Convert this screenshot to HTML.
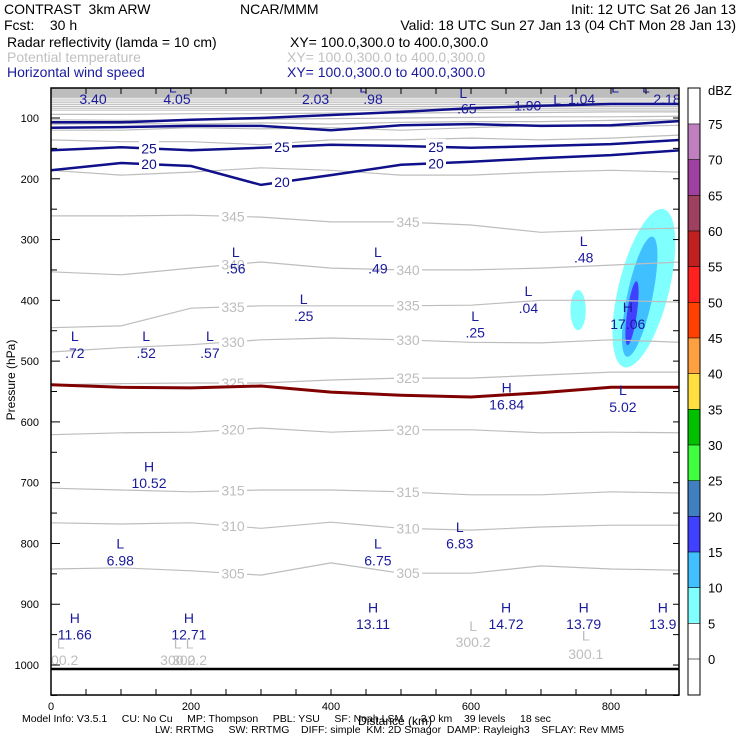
<!DOCTYPE html>
<html><head><meta charset="utf-8">
<style>
html,body{margin:0;padding:0;background:#fff;width:740px;height:740px;overflow:hidden}
svg{display:block;font-family:"Liberation Sans",sans-serif}
text{white-space:pre}
</style></head><body>
<svg id="chart" width="740" height="740" viewBox="0 0 740 740" xml:space="preserve">
<g font-size="14">
<text x="4" y="14" fill="#000">CONTRAST  3km ARW</text>
<text x="240" y="14" fill="#000">NCAR/MMM</text>
<text x="736" y="14" fill="#000" text-anchor="end">Init: 12 UTC Sat 26 Jan 13</text>
<text x="4" y="30" fill="#000">Fcst:    30 h</text>
<text x="736" y="30" fill="#000" text-anchor="end">Valid: 18 UTC Sun 27 Jan 13 (04 ChT Mon 28 Jan 13)</text>
<text x="7" y="47" fill="#000">Radar reflectivity (lamda = 10 cm)</text>
<text x="290" y="47" fill="#000">XY= 100.0,300.0 to 400.0,300.0</text>
<text x="7" y="62" fill="#c0c0c0">Potential temperature</text>
<text x="287" y="62" fill="#c0c0c0">XY= 100.0,300.0 to 400.0,300.0</text>
<text x="7" y="77" fill="#1a1a9c">Horizontal wind speed</text>
<text x="287" y="77" fill="#1a1a9c">XY= 100.0,300.0 to 400.0,300.0</text>
</g>
<defs><clipPath id="plotclip"><rect x="51" y="88" width="628" height="607"/></clipPath></defs>
<g id="plot" clip-path="url(#plotclip)">
<rect x="51" y="88" width="628" height="9" fill="#bdbdbd"/>
<g id="refl"></g>
<g id="theta"></g>
<g id="wind"></g>
<g id="frz"></g>
<line x1="51" y1="669" x2="679" y2="669" stroke="#000" stroke-width="2.5"/>
<g id="labels" font-size="14" fill="#1a1a9c"></g>
</g>
<rect x="51" y="88" width="628" height="607" fill="none" stroke="#000" stroke-width="1.5"/>
<g id="axes" font-size="11" fill="#000"></g>
<text transform="translate(15,380) rotate(-90)" text-anchor="middle" font-size="12">Pressure (hPa)</text>
<text x="395" y="725" text-anchor="middle" font-size="12">Distance (km)</text>
<g id="cbar" font-size="13"></g>
<text x="708" y="95" font-size="13">dBZ</text>
<g font-size="10.5" fill="#000">
<text x="22" y="722">Model Info: V3.5.1     CU: No Cu     MP: Thompson     PBL: YSU     SF: Noah LSM      3.0 km    39 levels     18 sec</text>
<text x="155" y="733">LW: RRTMG     SW: RRTMG    DIFF: simple  KM: 2D Smagor  DAMP: Rayleigh3    SFLAY: Rev MM5</text>
</g>
</svg>
<script>
const xKm = [0,100,200,300,400,500,600,700,800,900];
const thetaLevels = [305,310,315,320,325,330,335,340,345,350,355,360,365,370,375];
const th305 = [842,840,845,852,832,849,849,837,842,844];
const th310 = [766,768,766,775,765,775,778,773,770,770];
const th315 = [709,712,715,712,712,715,720,720,715,717];
const th320 = [621,618,617,610,617,613,613,618,617,618];
const th325 = [539,537,536,536,531,528,528,523,518,518];
const th330 = [485,478,473,465,462,465,469,470,465,469];
const th335 = [445,442,413,409,409,409,408,400,400,403];
const th340 = [353,358,347,337,347,350,350,347,342,337];
const th345 = [261,261,260,263,271,271,276,288,284,281];
const th350 = [186,194,189,182,186,194,194,189,186,189];
const th355 = [136,139,139,144,136,136,133,136,133,128];
const th360 = [120,120,116,118,116,120,116,112,114,112];
const th365 = [110,109,110,108,110,107,106,106,104,103];
const th370 = [103,104,103,102,101,100,99,98,98,97];
const th375 = [94,94,93,93,92,92,91,91,90,90];
const thetaSeries = [th305,th310,th315,th320,th325,th330,th335,th340,th345,th350,th355,th360,th365,th370,th375];
const upperThetaP = [63,66,69,72,75,78,81,84,87];
const windLevels = [20,25,25,20];
const w20low = [186,174,179,210,194,177,172,166,161,153];
const w25low = [153,148,153,149,144,146,149,146,143,136];
const w25up = [116,115,113,113,120,112,110,113,112,105];
const w20up = [107,107,103,100,95,90,84,80,77,77];
const windSeries = [w20low,w25low,w25up,w20up];
const freezing = [539,543,544,541,551,556,559,552,543,543];
// reflectivity cells: center km, center hPa, half-width km, half-height hPa, tilt deg, dBZ class
const reflKm = [847,841,830,753];
const reflP = [380,394,421,416];
const reflRx = [36,18,7,11];
const reflRy = [134,101,53,33];
const reflTilt = [14,12,8,0];
const reflDbz = [5,10,15,5];
const cbarLevels = [0,5,10,15,20,25,30,35,40,45,50,55,60,65,70,75];
const cbarColors = ["#ffffff","#80ffff","#40c0ff","#4040ff","#4080c0","#40ff40","#00c000","#ffe040","#ffa040","#ff4000","#ff2020","#c02020","#a04060","#a040a0","#c080c0","#ffffff"];
const yTicks = [100,200,300,400,500,600,700,800,900,1000];
const xTicks = [0,200,400,600,800];
const extremaText = ["L","3.40","L","4.05","L","2.03","L",".98","L",".65","L","1.90","L","1.04","L","2.18",
 "L",".56","L",".49","L",".48","L",".25","L",".25","L",".04","L",".72","L",".52","L",".57",
 "H","17.06","H","16.84","L","5.02","H","10.52","L","6.98","L","6.75","L","6.83",
 "H","11.66","H","12.71","H","13.11","H","14.72","H","13.79","H","13.9"];
const extremaKm = [174,60,446,180,850,378,1056,460,589,594,723,681,806,758,1011,880,
 264,264,467,467,761,761,361,361,606,606,682,682,34,34,136,136,227,227,
 824,824,651,651,817,817,140,140,99,99,467,467,584,584,
 34,34,197,197,460,460,650,650,761,761,874,874];
const extremaP = [58,77,58,77,58,77,58,77,67,93,78,88,58,77,58,77,
 329,356,329,356,311,338,406,434,434,461,393,421,467,495,467,495,467,495,
 419,447,552,580,556,584,682,709,808,836,808,836,781,808,
 931,958,931,958,914,941,914,941,914,941,914,941];
const thetaMinText = ["L","300.2","L","300.2","L","300.2","L","300.2","L","300.1"];
const thetaMinKm = [14,14,181,181,198,198,603,603,764,764];
const thetaMinP = [973,1000,973,1000,973,1000,944,970,960,990];

const NS="http://www.w3.org/2000/svg";
function fx(km){return 51+km*0.7;}
function fy(p){return 118+(p-100)*0.6078;}
function el(tag,attrs,parent){const e=document.createElementNS(NS,tag);for(const k in attrs)e.setAttribute(k,attrs[k]);parent.appendChild(e);return e;}
function pathFor(arr){return arr.map((p,i)=>(i?"L":"M")+fx(xKm[i]).toFixed(1)+","+fy(p).toFixed(1)).join(" ");}

const rg=document.getElementById('refl');
reflKm.forEach((k,i)=>{
 const cx=fx(k),cy=fy(reflP[i]);
 const e=el('ellipse',{cx:cx,cy:cy,rx:reflRx[i]*0.7,ry:reflRy[i]*0.6078,fill:cbarColors[cbarLevels.indexOf(reflDbz[i])],transform:`rotate(${reflTilt[i]} ${cx} ${cy})`},rg);
 
 
});
const tg=document.getElementById('theta');
upperThetaP.forEach(p=>{
 const ln=el('line',{x1:51,x2:679,y1:fy(p),y2:fy(p),stroke:'#bdbdbd','stroke-width':1},tg);
 
 
});
thetaSeries.forEach((s,i)=>{
 const e=el('path',{d:pathFor(s),fill:'none',stroke:'#bdbdbd','stroke-width':1.2},tg);
 
 
 if(thetaLevels[i]<=345){
  [2.6,5.1].forEach(pos=>{
   const j=Math.floor(pos),f=pos-j;const p=s[j]+(s[j+1]-s[j])*f;
   const x=fx(xKm[j]+100*f),y=fy(p);
   el('rect',{x:x-14,y:y-8,width:28,height:14,fill:'#fff'},tg);
   const t=el('text',{x:x,y:y+5,'text-anchor':'middle','font-size':14,fill:'#bdbdbd'},tg);
   t.textContent=thetaLevels[i];
   
   
  });
 }
});
const wg=document.getElementById('wind');
windSeries.forEach((s,i)=>{
 const e=el('path',{d:pathFor(s),fill:'none',stroke:'#10108a','stroke-width':2.5},wg);
 
 
 if(i<2){
  [1.4,3.3,5.5].forEach(pos=>{
   const j=Math.floor(pos),f=pos-j;const p=s[j]+(s[j+1]-s[j])*f;
   const x=fx(xKm[j]+100*f),y=fy(p);
   el('rect',{x:x-10,y:y-8,width:20,height:14,fill:'#fff'},wg);
   const t=el('text',{x:x,y:y+5,'text-anchor':'middle','font-size':14,fill:'#10108a'},wg);
   t.textContent=windLevels[i];
   
   
  });
 }
});
const fg=document.getElementById('frz');
const fz=el('path',{d:pathFor(freezing),fill:'none',stroke:'#800000','stroke-width':3},fg);


const lg=document.getElementById('labels');
extremaText.forEach((s,i)=>{
 const t=el('text',{x:fx(extremaKm[i]),y:fy(extremaP[i]),'text-anchor':'middle'},lg);
 t.textContent=s;
 
 
});
thetaMinText.forEach((s,i)=>{
 const t=el('text',{x:fx(thetaMinKm[i]),y:fy(thetaMinP[i]),'text-anchor':'middle',fill:'#bdbdbd'},lg);
 t.textContent=s;
 
 
});
const ag=document.getElementById('axes');
for(let p=100;p<=1050;p+=50){
 const tk=el('line',{x1:51,x2:p%100?57:60,y1:fy(p),y2:fy(p),stroke:'#000'},ag);
 
 
 const tk2=el('line',{x1:679,x2:673,y1:fy(p),y2:fy(p),stroke:'#000'},ag);
 
 
}
yTicks.forEach(p=>{
 const t=el('text',{x:39,y:fy(p)+4,'text-anchor':'end'},ag);
 t.textContent=p;
 
 
});
for(let k=0;k<=897;k+=50){
 const tk=el('line',{x1:fx(k),x2:fx(k),y1:695,y2:689,stroke:'#000'},ag);
 
 
 const tk2=el('line',{x1:fx(k),x2:fx(k),y1:88,y2:94,stroke:'#000'},ag);
 
 
}
xTicks.forEach(k=>{
 const t=el('text',{x:fx(k),y:710,'text-anchor':'middle'},ag);
 t.textContent=k;
 
 
});
const cg=document.getElementById('cbar');
const cy0=659,cstep=35.67;
el('rect',{x:688,y:88,width:12,height:607,fill:'#fff',stroke:'#000'},cg);
cbarLevels.forEach((v,i)=>{
 if(i>=1&&i<15){
  const r=el('rect',{x:688,y:cy0-(i+1)*cstep,width:12,height:cstep,fill:cbarColors[i]},cg);
  
  
 }
 const y=cy0-i*cstep;
 el('line',{x1:688,x2:700,y1:y,y2:y,stroke:'#000','stroke-width':0.6},cg);
 const t=el('text',{x:708,y:y+5},cg);
 t.textContent=v;
 
 
});
el('rect',{x:688,y:88,width:12,height:607,fill:'none',stroke:'#000'},cg);
</script>
</body></html>
